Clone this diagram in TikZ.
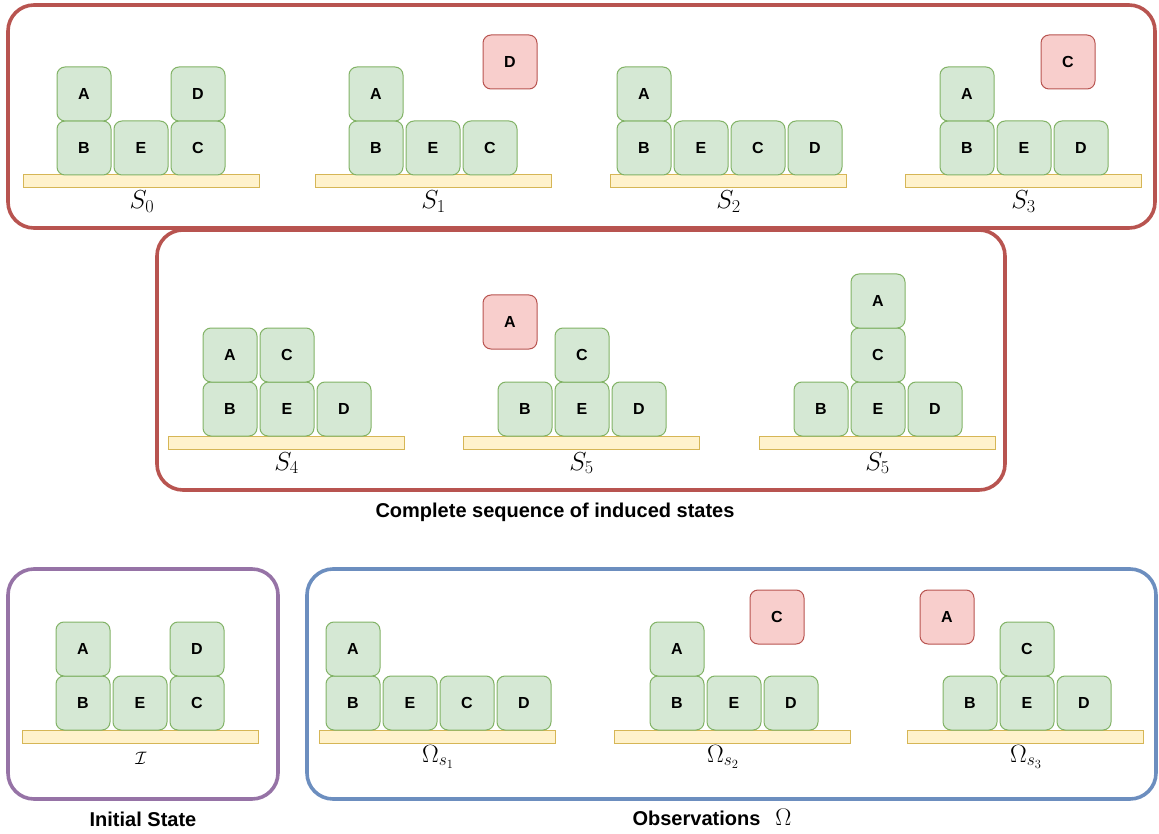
\RequirePackage{fix-cm}
\documentclass[tikz,border=0pt]{standalone}
\usepackage{fontspec}
\setsansfont{Liberation Sans}
\begin{document}
\begin{tikzpicture}[x=1pt,y=-1pt,
  blk/.style={draw=blkline,fill=blkfill,line width=1pt,rounded corners=8pt,
    minimum width=54pt,minimum height=54pt,inner sep=0pt,
    font=\fontsize{16}{18}\sffamily\bfseries},
  rblk/.style={blk,draw=redline,fill=redfill},
  tbl/.style={draw=tblline,fill=tblfill,line width=1pt,minimum width=236pt,
    minimum height=13pt,inner sep=0pt},
  lbl/.style={font=\fontsize{26}{30}\selectfont,inner sep=0pt,anchor=base},
  olbl/.style={font=\fontsize{25}{30}\selectfont,inner sep=0pt,anchor=base},
  frame/.style={line width=3.6pt,rounded corners=26pt},
  captext/.style={font=\fontsize{20}{24}\sffamily\bfseries,inner sep=0pt,anchor=base}]
\definecolor{blkfill}{HTML}{D5E8D4}
\definecolor{blkline}{HTML}{82B366}
\definecolor{redfill}{HTML}{F8CECC}
\definecolor{redline}{HTML}{B85450}
\definecolor{tblfill}{HTML}{FFF2CC}
\definecolor{tblline}{HTML}{D6B656}
\definecolor{frred}{HTML}{B85450}
\definecolor{frpurple}{HTML}{9673A6}
\definecolor{frblue}{HTML}{6C8EBF}
\useasboundingbox (0,0) rectangle (1159,834);

% frames
\draw[frame,frred] (8,5) rectangle (1155,228);
\draw[frame,frred] (157,230) rectangle (1005,490);
\draw[frame,frpurple] (8,569) rectangle (278,799);
\draw[frame,frblue] (307,569) rectangle (1156,799);

% S0
\node[tbl] (t0) at (141,181.5) {};
\node[blk] (s0b) at (84,148) {B};
\node[blk] (s0e) at (141,148) {E};
\node[blk] (s0c) at (198,148) {C};
\node[blk] (s0a) at (84,94) {A};
\node[blk] (s0d) at (198,94) {D};
\node[lbl] (l0) at (142,208.5) {$S_0$};

% S1
\node[tbl] (t1) at (433.5,181.5) {};
\node[blk] (s1b) at (376,148) {B};
\node[blk] (s1e) at (433,148) {E};
\node[blk] (s1c) at (490,148) {C};
\node[blk] (s1a) at (376,94) {A};
\node[rblk] (s1d) at (510,62) {D};
\node[lbl] (l1) at (433.5,208.5) {$S_1$};

% S2
\node[tbl] (t2) at (728.5,181.5) {};
\node[blk] (s2b) at (644,148) {B};
\node[blk] (s2e) at (701,148) {E};
\node[blk] (s2c) at (758,148) {C};
\node[blk] (s2d) at (815,148) {D};
\node[blk] (s2a) at (644,94) {A};
\node[lbl] (l2) at (728.5,208.5) {$S_2$};

% S3
\node[tbl] (t3) at (1023.5,181.5) {};
\node[blk] (s3b) at (967,148) {B};
\node[blk] (s3e) at (1024,148) {E};
\node[blk] (s3d) at (1081,148) {D};
\node[blk] (s3a) at (967,94) {A};
\node[rblk] (s3c) at (1068,62) {C};
\node[lbl] (l3) at (1023.5,208.5) {$S_3$};

% S4
\node[tbl] (t4) at (286.5,442.5) {};
\node[blk] (s4b) at (230,409) {B};
\node[blk] (s4e) at (287,409) {E};
\node[blk] (s4d) at (344,409) {D};
\node[blk] (s4a) at (230,355) {A};
\node[blk] (s4c) at (287,355) {C};
\node[lbl] (l4) at (286.5,470) {$S_4$};

% S5 (A held)
\node[tbl] (t5) at (581.5,442.5) {};
\node[blk] (s5b) at (525,409) {B};
\node[blk] (s5e) at (582,409) {E};
\node[blk] (s5d) at (639,409) {D};
\node[blk] (s5c) at (582,355) {C};
\node[rblk] (s5a) at (510,322) {A};
\node[lbl] (l5) at (581.5,470) {$S_5$};

% S5 (A stacked)
\node[tbl] (t6) at (877.5,442.5) {};
\node[blk] (s6b) at (821,409) {B};
\node[blk] (s6e) at (878,409) {E};
\node[blk] (s6d) at (935,409) {D};
\node[blk] (s6c) at (878,355) {C};
\node[blk] (s6a) at (878,301) {A};
\node[lbl] (l6) at (877.5,470) {$S_5$};

\node[captext] (capseq) at (555,517) {Complete sequence of induced states};

% initial state
\node[tbl] (ti) at (140,736.5) {};
\node[blk] (ib) at (83,703) {B};
\node[blk] (ie) at (140,703) {E};
\node[blk] (ic) at (197,703) {C};
\node[blk] (ia) at (83,649) {A};
\node[blk] (id) at (197,649) {D};
\node[font=\fontsize{18}{21}\selectfont,inner sep=0pt,anchor=base] (li) at (141,764) {$\mathcal{I}$};
\node[captext] (capinit) at (143,826) {Initial State};

% observation 1
\node[tbl] (to1) at (437.5,736.5) {};
\node[blk] (o1b) at (353,703) {B};
\node[blk] (o1e) at (410,703) {E};
\node[blk] (o1c) at (467,703) {C};
\node[blk] (o1d) at (524,703) {D};
\node[blk] (o1a) at (353,649) {A};
\node[olbl] (lo1) at (438,762) {$\Omega_{s_1}$};

% observation 2
\node[tbl] (to2) at (732.5,736.5) {};
\node[blk] (o2b) at (677,703) {B};
\node[blk] (o2e) at (734,703) {E};
\node[blk] (o2d) at (791,703) {D};
\node[blk] (o2a) at (677,649) {A};
\node[rblk] (o2c) at (777,617) {C};
\node[olbl] (lo2) at (723,762) {$\Omega_{s_2}$};

% observation 3
\node[tbl] (to3) at (1025.5,736.5) {};
\node[blk] (o3b) at (970,703) {B};
\node[blk] (o3e) at (1027,703) {E};
\node[blk] (o3d) at (1084,703) {D};
\node[blk] (o3c) at (1027,649) {C};
\node[rblk] (o3a) at (947,617) {A};
\node[olbl] (lo3) at (1026,762) {$\Omega_{s_3}$};

\node[captext] (capobs) at (712,825) {Observations\hspace{0.75em}{\fontsize{24}{28}\selectfont$\Omega$}};
\end{tikzpicture}
\end{document}
